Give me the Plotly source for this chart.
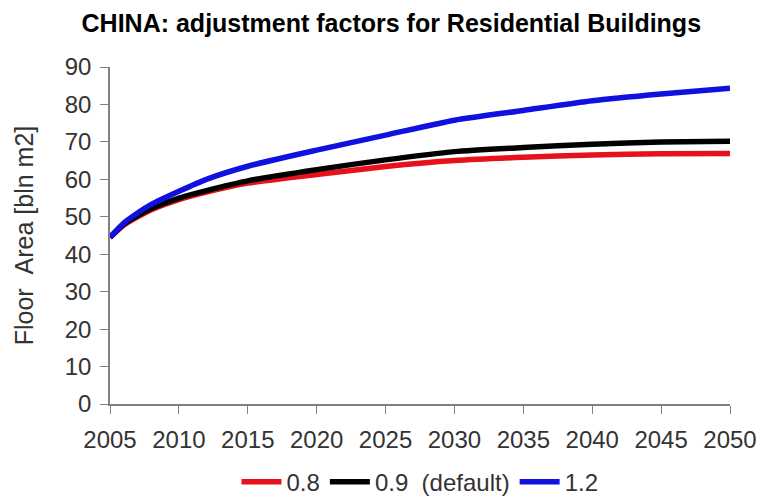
import plotly.graph_objects as go

years = [2005, 2006, 2007, 2008, 2010, 2012, 2015, 2020, 2025, 2030, 2035, 2040, 2045, 2050]
f08 = [44.5, 47.8, 50.0, 51.9, 54.6, 56.6, 59.0, 61.3, 63.4, 65.0, 65.9, 66.5, 66.8, 66.9]
f09 = [44.5, 48.0, 50.3, 52.2, 55.0, 57.0, 59.6, 62.6, 65.2, 67.4, 68.5, 69.4, 70.0, 70.2]
f12 = [44.5, 48.3, 51.0, 53.3, 56.8, 60.0, 63.5, 67.8, 71.8, 75.8, 78.4, 81.0, 82.8, 84.3]

names = ["0.8", "0.9 \u00a0(default)", "1.2"]
colors = ["#e8101a", "#000000", "#1010e0"]
x_ticks = list(range(2005, 2051, 5))
y_ticks = list(range(0, 91, 10))

FONT = "Liberation Sans, Arial"

fig = go.Figure()
for ys, nm, c in zip([f08, f09, f12], names, colors):
    fig.add_trace(go.Scatter(x=years, y=ys, name=nm, mode="lines",
                             line=dict(color=c, width=5.5, shape="spline", smoothing=0.6)))

axis_common = dict(showline=True, linecolor="#808080", linewidth=1.5, ticks="outside",
                   tickcolor="#808080", ticklen=8, showgrid=False, zeroline=False,
                   tickfont=dict(family=FONT, size=24, color="#333333"))

# page has an 8px body margin; figure origin sits at (8, 8) in the window
fig.update_layout(
    width=756, height=502,
    paper_bgcolor="white", plot_bgcolor="white",
    margin=dict(l=102, r=34, t=59, b=106, autoexpand=False),
    title=dict(text="<b>CHINA: adjustment factors for Residential Buildings</b>",
               x=0.507, xanchor="center", y=1 - 15 / 502, yanchor="middle",
               font=dict(family=FONT, size=25, color="#000000")),
    xaxis=dict(range=[2005, 2050], tickvals=x_ticks, ticklabelstandoff=5, **axis_common),
    yaxis=dict(range=[0, 90], tickvals=y_ticks, ticklabelstandoff=4,
               title=dict(text="Floor \u00a0Area [bln m2]", standoff=24,
                          font=dict(family=FONT, size=25, color="#333333")),
               **axis_common),
    legend=dict(orientation="h", x=0.5, xanchor="center", y=-0.232, yanchor="middle",
                font=dict(family=FONT, size=24, color="#333333"),
                itemwidth=40, tracegroupgap=0),
    showlegend=True,
)

fig.write_html("out.html")
